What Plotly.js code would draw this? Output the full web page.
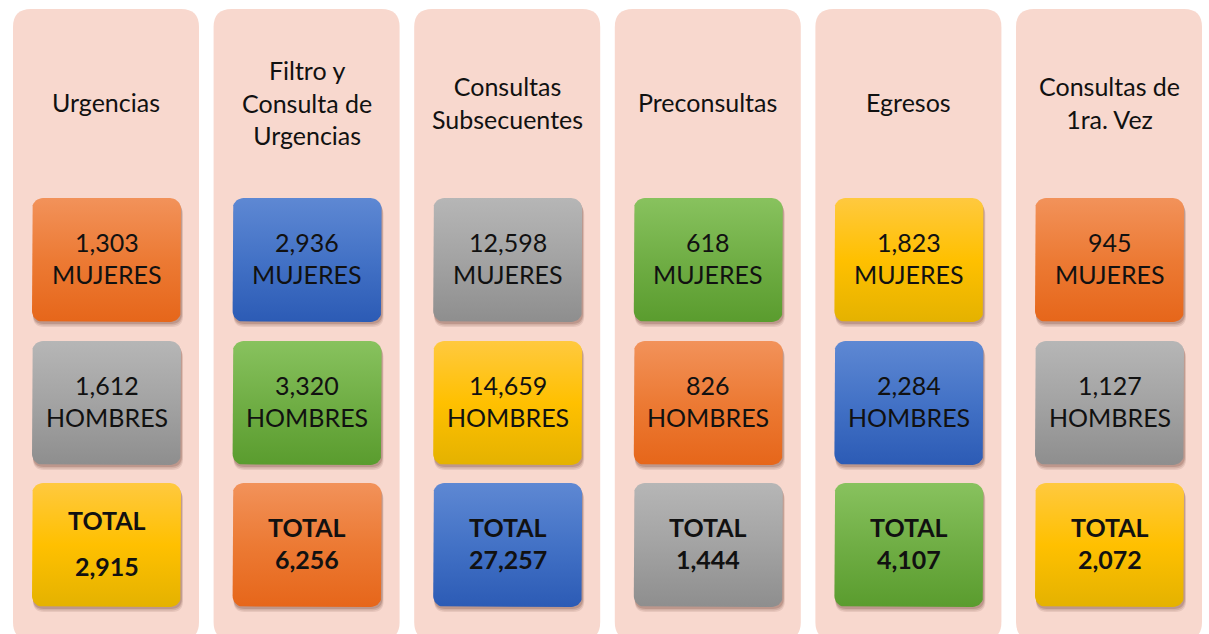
<!DOCTYPE html>
<html><head><meta charset="utf-8">
<script src="https://cdn.plot.ly/plotly-3.0.1.min.js"></script>
<style>html,body{margin:0;padding:0;background:#fff}#chart{width:1209px;height:634px}</style>
</head><body><div id="chart"></div>
<script>
// ---- data ----
const categories = ['Urgencias', 'Filtro y<br>Consulta de<br>Urgencias', 'Consultas<br>Subsecuentes', 'Preconsultas', 'Egresos', 'Consultas de<br>1ra. Vez'];
const mujeres = [1303, 2936, 12598, 618, 1823, 945];
const hombres = [1612, 3320, 14659, 826, 2284, 1127];
const totales = [2915, 6256, 27257, 1444, 4107, 2072];
const colorMujeres = ['orange', 'blue', 'gray', 'green', 'yellow', 'orange'];
const colorHombres = ['gray', 'green', 'yellow', 'orange', 'blue', 'gray'];
const colorTotales = ['yellow', 'orange', 'blue', 'gray', 'green', 'yellow'];
const labelMujeres = 'MUJERES';
const labelHombres = 'HOMBRES';
const labelTotal = 'TOTAL';

// ---- styles / layout ----
const palette = {
  orange: ['#F2925A', '#EC7A34', '#E6661A'],
  blue:   ['#5E88D3', '#4372C6', '#2C5BB5'],
  gray:   ['#B6B6B6', '#A3A3A3', '#8E8E8E'],
  green:  ['#88C25E', '#70AE45', '#5A9C2E'],
  yellow: ['#FFC93F', '#FFC000', '#E4B200']
};
const panelX0 = 13, panelPitch = 200.6, panelW = 186, panelY0 = 9, panelY1 = 634;
const boxInset = 19, boxW = 149;
const rows = [[198, 322], [341, 465], [483, 607]];
const fmt = n => n.toLocaleString('en-US');
const FONT = 'Lato, "Open Sans", sans-serif';

function rrPath(x0, y0, x1, y1, r) {
  return `M${x0+r},${y0} L${x1-r},${y0} Q${x1},${y0} ${x1},${y0+r} L${x1},${y1-r} Q${x1},${y1} ${x1-r},${y1} L${x0+r},${y1} Q${x0},${y1} ${x0},${y1-r} L${x0},${y0+r} Q${x0},${y0} ${x0+r},${y0} Z`;
}
function rrPoly(x0, y0, x1, y1, r) {
  const xs = [], ys = [];
  const corners = [[x1-r, y0+r, -90, 0], [x1-r, y1-r, 0, 90], [x0+r, y1-r, 90, 180], [x0+r, y0+r, 180, 270]];
  corners.forEach(([cx, cy, a0, a1]) => {
    for (let a = a0; a <= a1; a += 10) {
      const t = a * Math.PI / 180;
      xs.push(cx + r * Math.cos(t)); ys.push(cy + r * Math.sin(t));
    }
  });
  xs.push(xs[0]); ys.push(ys[0]);
  return {xs, ys};
}

const shapes = [], annotations = [], traces = [];

categories.forEach((cat, i) => {
  const px = panelX0 + i * panelPitch;
  shapes.push({type: 'path', xref: 'x', yref: 'y', path: rrPath(px, panelY0, px + panelW, panelY1 + 6, 18),
    fillcolor: '#F8D8CE', line: {width: 0}, layer: 'below'});
  annotations.push({x: px + panelW / 2, y: 102, xref: 'x', yref: 'y', text: cat, showarrow: false,
    font: {family: FONT, size: 25, color: '#111'}, align: 'center', xanchor: 'center', yanchor: 'middle'});

  const bx0 = px + boxInset, bx1 = bx0 + boxW;
  const boxes = [
    {c: colorMujeres[i], lines: [fmt(mujeres[i]), labelMujeres], bold: false},
    {c: colorHombres[i], lines: [fmt(hombres[i]), labelHombres], bold: false},
    {c: colorTotales[i], lines: [labelTotal, fmt(totales[i])], bold: true}
  ];
  boxes.forEach((b, r) => {
    const [y0, y1] = rows[r];
    [[5, 0.10], [3.5, 0.14], [2, 0.18]].forEach(([o, a]) => {
      shapes.push({type: 'path', xref: 'x', yref: 'y', path: rrPath(bx0 + 1, y0 + o + 1, bx1 + o * 0.4, y1 + o, 11),
        fillcolor: `rgba(90,40,30,${a})`, line: {width: 0}, layer: 'below'});
    });
    const p = rrPoly(bx0, y0, bx1, y1, 11);
    const col = palette[b.c];
    traces.push({type: 'scatter', mode: 'lines', x: p.xs, y: p.ys, fill: 'toself', line: {width: 0, color: col[1]},
      fillgradient: {type: 'vertical', start: y0, stop: y1, colorscale: [[0, col[0]], [0.5, col[1]], [1, col[2]]]},
      hoverinfo: 'skip', showlegend: false});
    const cy = (y0 + y1) / 2 - 2;
    const gap = b.bold ? (i === 0 ? 23 : 16) : 16;
    annotations.push({x: (bx0 + bx1) / 2, y: cy - gap, xref: 'x', yref: 'y', text: b.bold ? `<b>${b.lines[0]}</b>` : b.lines[0],
      showarrow: false, font: {family: FONT, size: 25, color: '#111'}, xanchor: 'center', yanchor: 'middle'});
    annotations.push({x: (bx0 + bx1) / 2, y: cy + gap, xref: 'x', yref: 'y', text: b.bold ? `<b>${b.lines[1]}</b>` : b.lines[1],
      showarrow: false, font: {family: FONT, size: 25, color: '#111'}, xanchor: 'center', yanchor: 'middle'});
  });
});

const layout = {
  width: 1209, height: 634, margin: {l: 0, r: 0, t: 0, b: 0},
  paper_bgcolor: '#fff', plot_bgcolor: '#fff',
  xaxis: {range: [0, 1209], visible: false, fixedrange: true},
  yaxis: {range: [634, 0], visible: false, fixedrange: true},
  shapes, annotations, showlegend: false
};
Plotly.newPlot('chart', traces, layout, {displayModeBar: false, staticPlot: true});
</script></body></html>
